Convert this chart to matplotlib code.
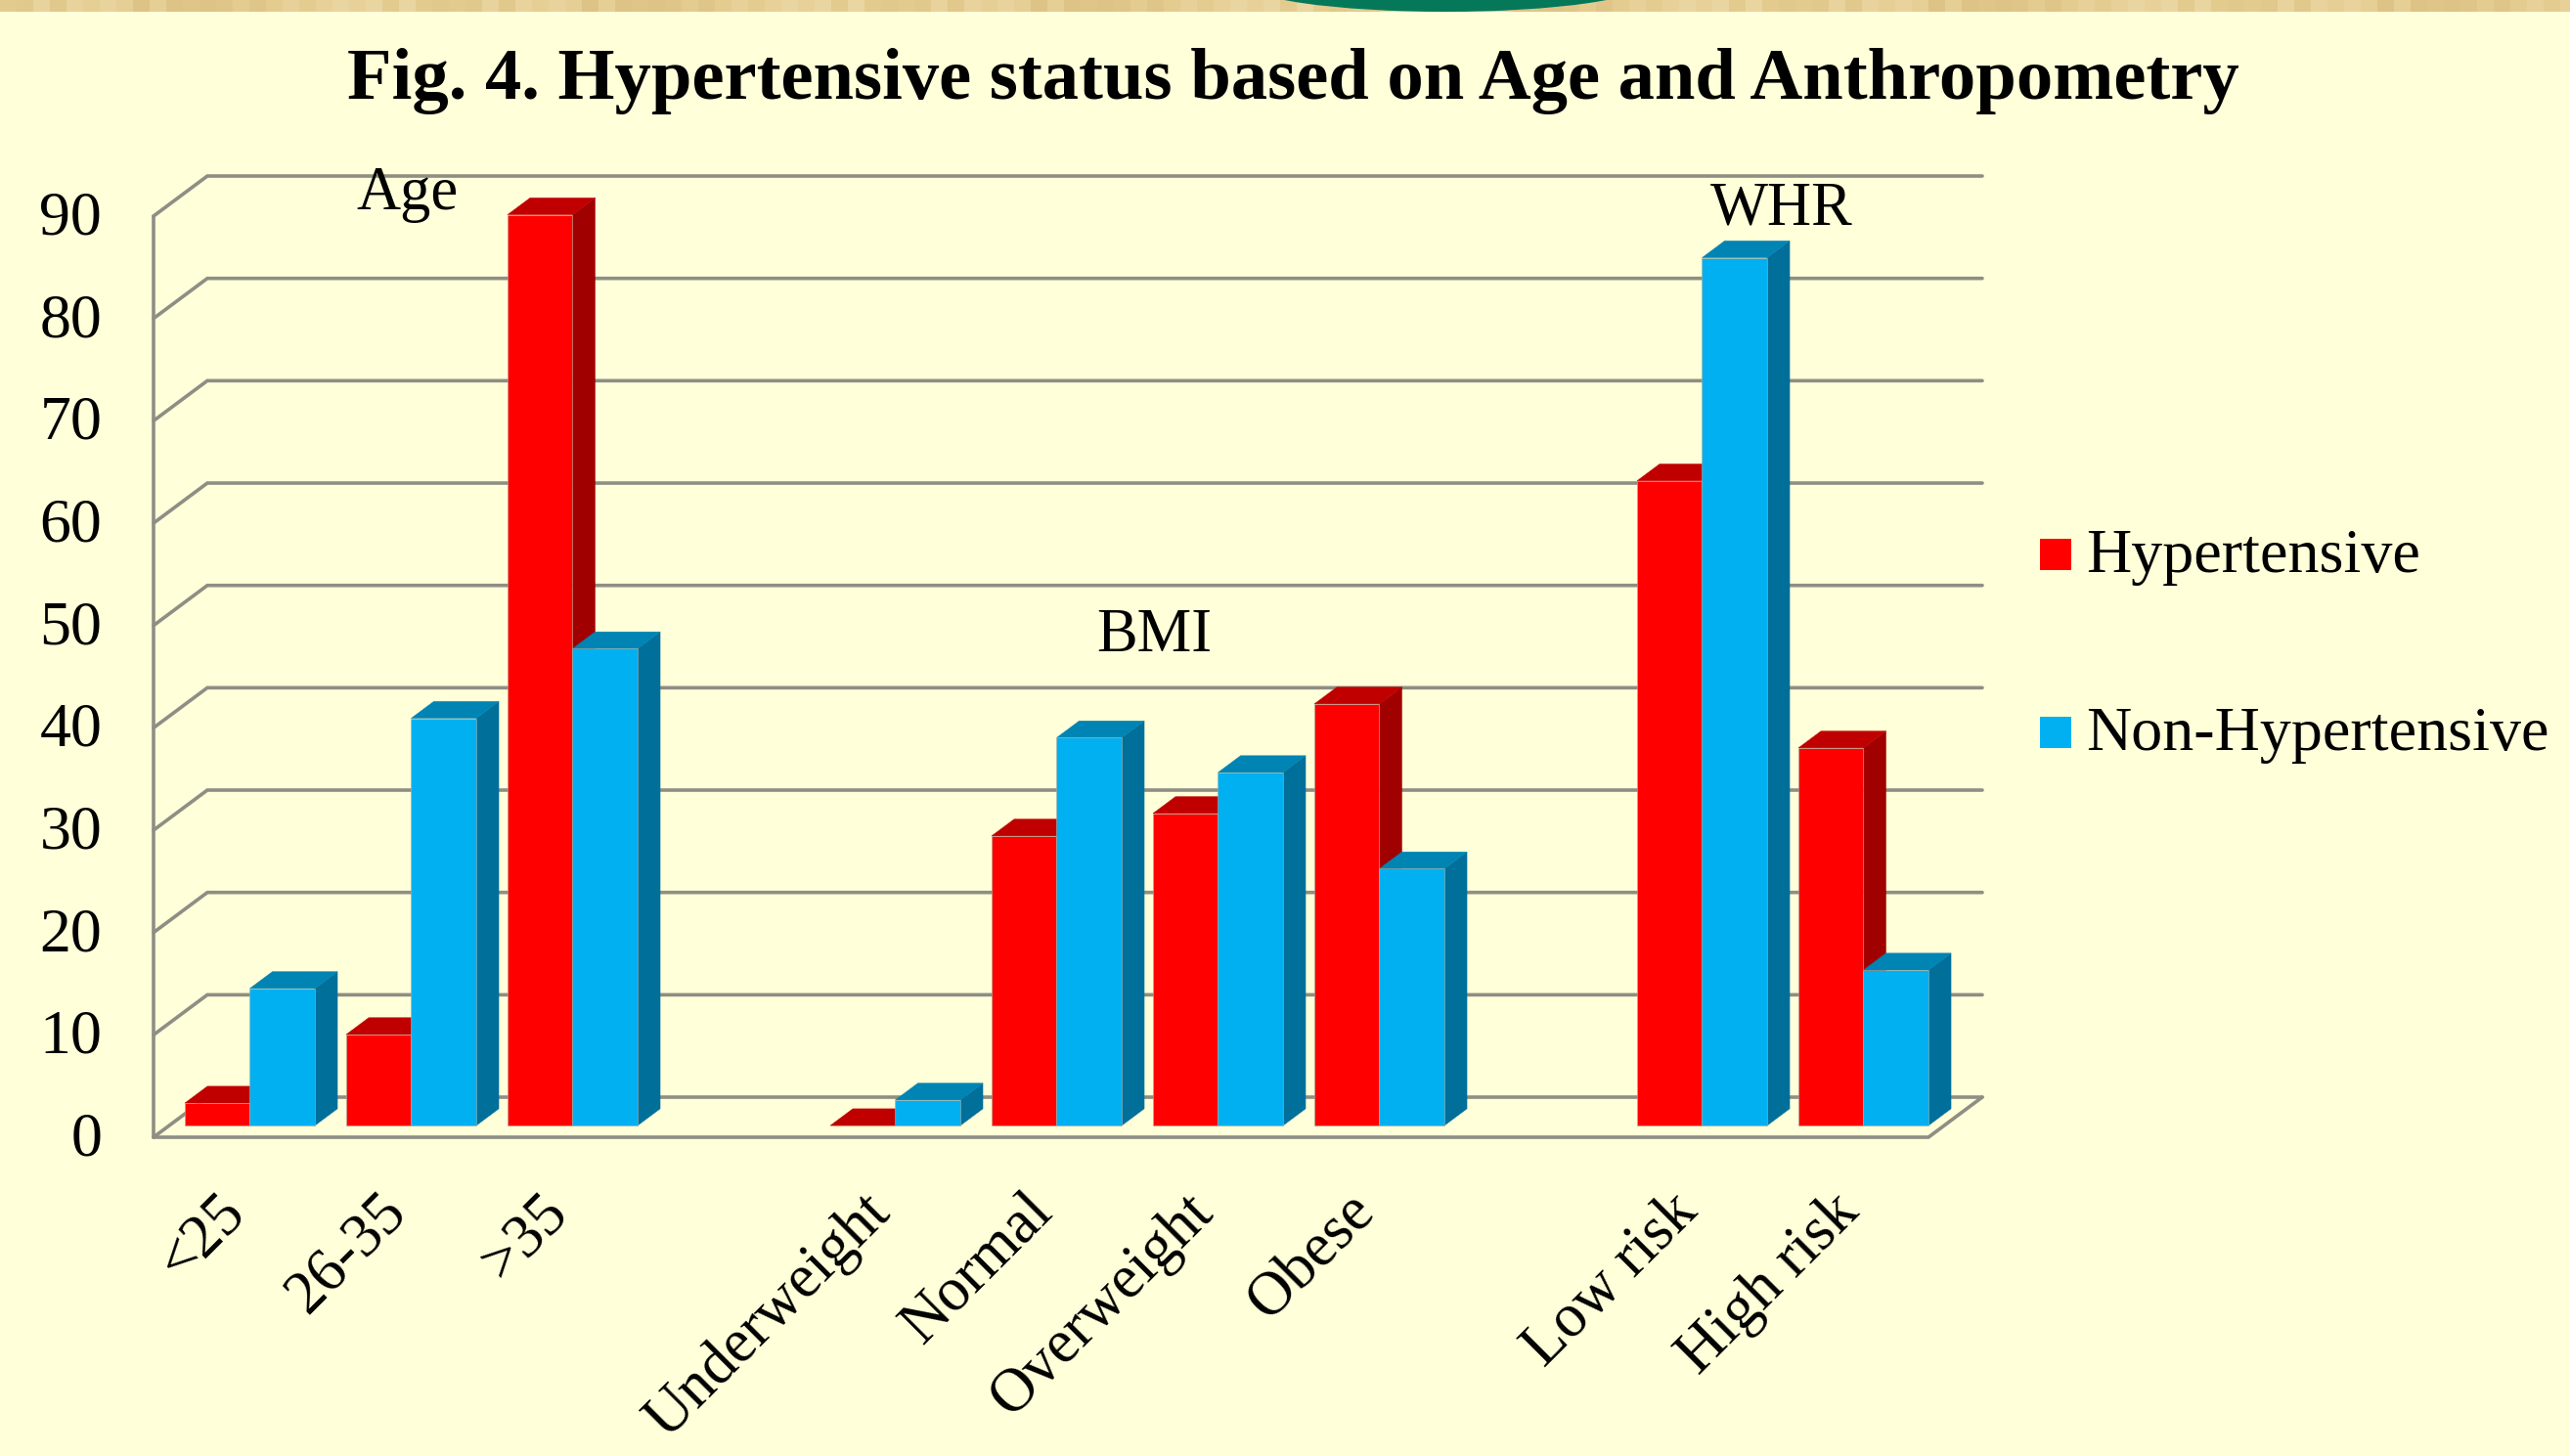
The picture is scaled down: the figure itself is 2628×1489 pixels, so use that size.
import matplotlib
matplotlib.use("Agg")
import matplotlib.pyplot as plt
from matplotlib.patches import Polygon, Ellipse, Rectangle

# Percentages by group
categories = ["<25", "26-35", ">35", "", "Underweight", "Normal", "Overweight", "Obese", "", "Low risk", "High risk"]
hypertensive = [2.2, 8.9, 89.0, None, 0.0, 28.3, 30.5, 41.2, None, 63.0, 36.9]
non_hypertensive = [13.4, 39.8, 46.6, None, 2.5, 37.9, 34.5, 25.1, None, 84.8, 15.2]
y_ticks = [0, 10, 20, 30, 40, 50, 60, 70, 80, 90]
group_labels = ["Age", "BMI", "WHR"]
group_x = [1.57, 6.2, 10.09]
group_y = [92.1, 48.9, 90.6]

W, H = 2628, 1489
BG = "#FFFFD9"
GRID = "#8E8E84"
RED, RED_TOP, RED_SIDE = "#FF0000", "#C00000", "#A00000"
BLUE, BLUE_TOP, BLUE_SIDE = "#00B0F0", "#0084B4", "#006F9A"

plt.rcParams["font.family"] = ["Liberation Serif", "DejaVu Serif"]

fig = plt.figure(figsize=(W / 100, H / 100), dpi=100, facecolor=BG)

# Strip along the top edge, with the green arc hanging over it
band = fig.add_axes([0, 1 - 12 / H, 1, 12 / H])
band.set_xlim(0, W)
band.set_ylim(12, 0)
band.axis("off")
band_colors = ["#E3CB8E", "#E7D199", "#DFC688", "#E6CF95", "#E1C88B", "#E9D5A0", "#E4CC90", "#DDC385", "#E8D39C"]
for n, i in enumerate(range(0, W, 17)):
    band.add_patch(Rectangle((i, 0), 17, 12, color=band_colors[(n * 4 + n // 3) % 9], lw=0))
band.add_patch(Ellipse((1478, -18), 412, 60, color="#06785A", lw=0))

# Axes spans the front plane of the 3D box
left, right, y0, y90 = 157, 1972, 1163, 221
ax = fig.add_axes([left / W, 1 - y0 / H, (right - left) / W, (y0 - y90) / H])
ax.set_xlim(0, 11)
ax.set_ylim(0, 90)
ax.axis("off")

depth_x = 55 / 165
depth_y = 41 / 10.47


def line(xs, ys, z=1):
    ax.plot(xs, ys, color=GRID, lw=2.6, clip_on=False, zorder=z, solid_capstyle="round", solid_joinstyle="miter")


for v in y_ticks:
    line([0, depth_x, 11 + depth_x], [v, v + depth_y, v + depth_y])
line([0, 0], [0, 90])
line([0, 11, 11 + depth_x], [0, 0, depth_y])
for v in y_ticks:
    ax.text(-0.32, v - 0.35, str(v), ha="right", va="center", fontsize=46)


def bar3d(x, w, v, front, top, side, z):
    # front face sits partway into the floor depth
    ox, oy = depth_x * 0.29, depth_y * 0.29
    sx, sy = depth_x * 0.42, depth_y * 0.42
    x0, x1 = x + ox, x + ox + w
    y0_, y1_ = oy, oy + v
    ax.add_patch(Polygon([(x1, y0_), (x1 + sx, y0_ + sy), (x1 + sx, y1_ + sy), (x1, y1_)], fc=side, ec=side, lw=0.3, zorder=z, clip_on=False))
    ax.add_patch(Polygon([(x0, y1_), (x0 + sx, y1_ + sy), (x1 + sx, y1_ + sy), (x1, y1_)], fc=top, ec=top, lw=0.3, zorder=z, clip_on=False))
    if v > 0:
        ax.add_patch(Polygon([(x0, y0_), (x1, y0_), (x1, y1_), (x0, y1_)], fc=front, ec="#B0B0A0", lw=0.4, zorder=z + 0.1, clip_on=False))


bar_w = 66.5 / 165
gap = (1 - 2 * bar_w) / 2
for i in range(len(categories)):
    if hypertensive[i] is None:
        continue
    bar3d(i + gap, bar_w, hypertensive[i], RED, RED_TOP, RED_SIDE, 2 + i)
    bar3d(i + gap + bar_w, bar_w, non_hypertensive[i], BLUE, BLUE_TOP, BLUE_SIDE, 2.5 + i)

# Category labels, rotated and ending under each group
for i, c in enumerate(categories):
    if c:
        ax.text(i + 0.39, -4.5, c, rotation=45, ha="right", va="top", rotation_mode="anchor", fontsize=45, clip_on=False)

for name, gx, gy in zip(group_labels, group_x, group_y):
    ax.text(gx, gy, name, ha="center", va="center", fontsize=45, zorder=30)

fig.text(1322 / W, 1 - 83 / H, "Fig. 4. Hypertensive status based on Age and Anthropometry", ha="center", va="center", fontsize=53.7, fontweight="bold")

# Legend drawn by hand to place the two entries far apart
for name, col, py in [("Hypertensive", RED, 567), ("Non-Hypertensive", BLUE, 749)]:
    fig.patches.append(Rectangle((2086 / W, 1 - (py + 16) / H), 32 / W, 32 / H, transform=fig.transFigure, color=col, lw=0))
    fig.text(2133 / W, 1 - (py + 3) / H, name, ha="left", va="center", fontsize=46.1)

fig.savefig("out.png", dpi=100, facecolor=BG)
